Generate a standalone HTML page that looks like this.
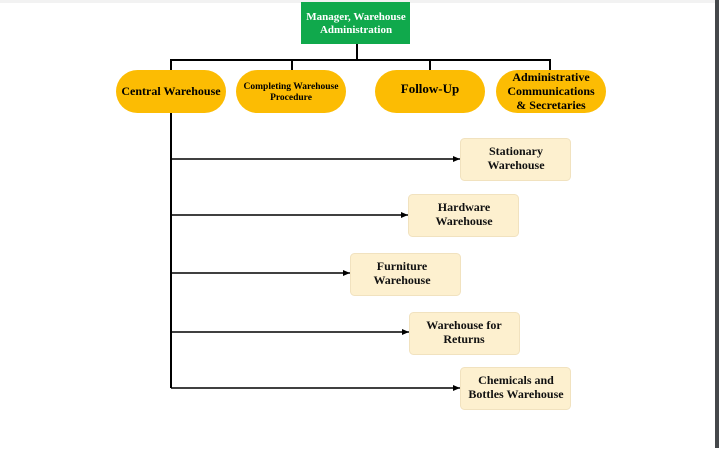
<!DOCTYPE html>
<html><head><meta charset="utf-8"><style>
html,body{margin:0;padding:0;background:#fff;}
body{width:719px;height:448px;overflow:hidden;position:relative;}
svg text{font-family:"Liberation Serif",serif;font-weight:bold;text-anchor:middle;}
</style></head><body>
<svg width="719" height="448" viewBox="0 0 719 448" xmlns="http://www.w3.org/2000/svg">
<defs><marker id="a" markerWidth="8" markerHeight="8" refX="7" refY="4" orient="auto" markerUnits="userSpaceOnUse"><path d="M0,1 L7,4 L0,7 z" fill="#000"/></marker></defs>
<rect x="0" y="0" width="719" height="3" fill="#f2f2f2"/>
<rect x="715" y="0" width="4" height="448" fill="#45484b"/>
<rect x="301" y="2" width="109" height="42" fill="#10a94c"/>
<text x="356" y="20" font-size="11" fill="#fff">Manager, Warehouse</text>
<text x="356" y="33" font-size="11" fill="#fff">Administration</text>
<g stroke="#000" stroke-width="2" fill="none">
<path d="M357 44 V60 M171 60 H551 M171 59 V71 M292 59 V71 M430 59 V71 M550 59 V71"/>
<path d="M171 113 V388"/>
</g>
<g stroke="#000" stroke-width="1.5" marker-end="url(#a)">
<line x1="171" y1="159" x2="460" y2="159"/>
<line x1="171" y1="215" x2="408" y2="215"/>
<line x1="171" y1="273" x2="350" y2="273"/>
<line x1="171" y1="332" x2="409" y2="332"/>
<line x1="171" y1="388" x2="460" y2="388"/>
</g>
<g fill="#fcbc03">
<rect x="116" y="70" width="110" height="43" rx="21.5"/>
<rect x="236" y="70" width="110" height="43" rx="21.5"/>
<rect x="375" y="70" width="110" height="43" rx="21.5"/>
<rect x="496" y="70" width="110" height="43" rx="21.5"/>
</g>
<text x="171" y="95" font-size="12">Central Warehouse</text>
<text x="291" y="89" font-size="9.5">Completing Warehouse</text>
<text x="291" y="100" font-size="9.5">Procedure</text>
<text x="430" y="93" font-size="13">Follow-Up</text>
<text x="551" y="81" font-size="12">Administrative</text>
<text x="551" y="95" font-size="12">Communications</text>
<text x="551" y="109" font-size="12">&amp; Secretaries</text>
<g fill="#fdf0cf" stroke="#f1e2bf" stroke-width="1">
<rect x="460.5" y="138.5" width="110" height="42" rx="4"/>
<rect x="408.5" y="194.5" width="110" height="42" rx="4"/>
<rect x="350.5" y="253.5" width="110" height="42" rx="4"/>
<rect x="409.5" y="312.5" width="110" height="42" rx="4"/>
<rect x="460.5" y="367.5" width="110" height="42" rx="4"/>
</g>
<g font-size="12" fill="#111">
<text x="516" y="155">Stationary</text><text x="516" y="169">Warehouse</text>
<text x="464" y="211">Hardware</text><text x="464" y="225">Warehouse</text>
<text x="402" y="270">Furniture</text><text x="402" y="284">Warehouse</text>
<text x="464" y="329">Warehouse for</text><text x="464" y="343">Returns</text>
<text x="516" y="384">Chemicals and</text><text x="516" y="398">Bottles Warehouse</text>
</g>
</svg>
</body></html>
